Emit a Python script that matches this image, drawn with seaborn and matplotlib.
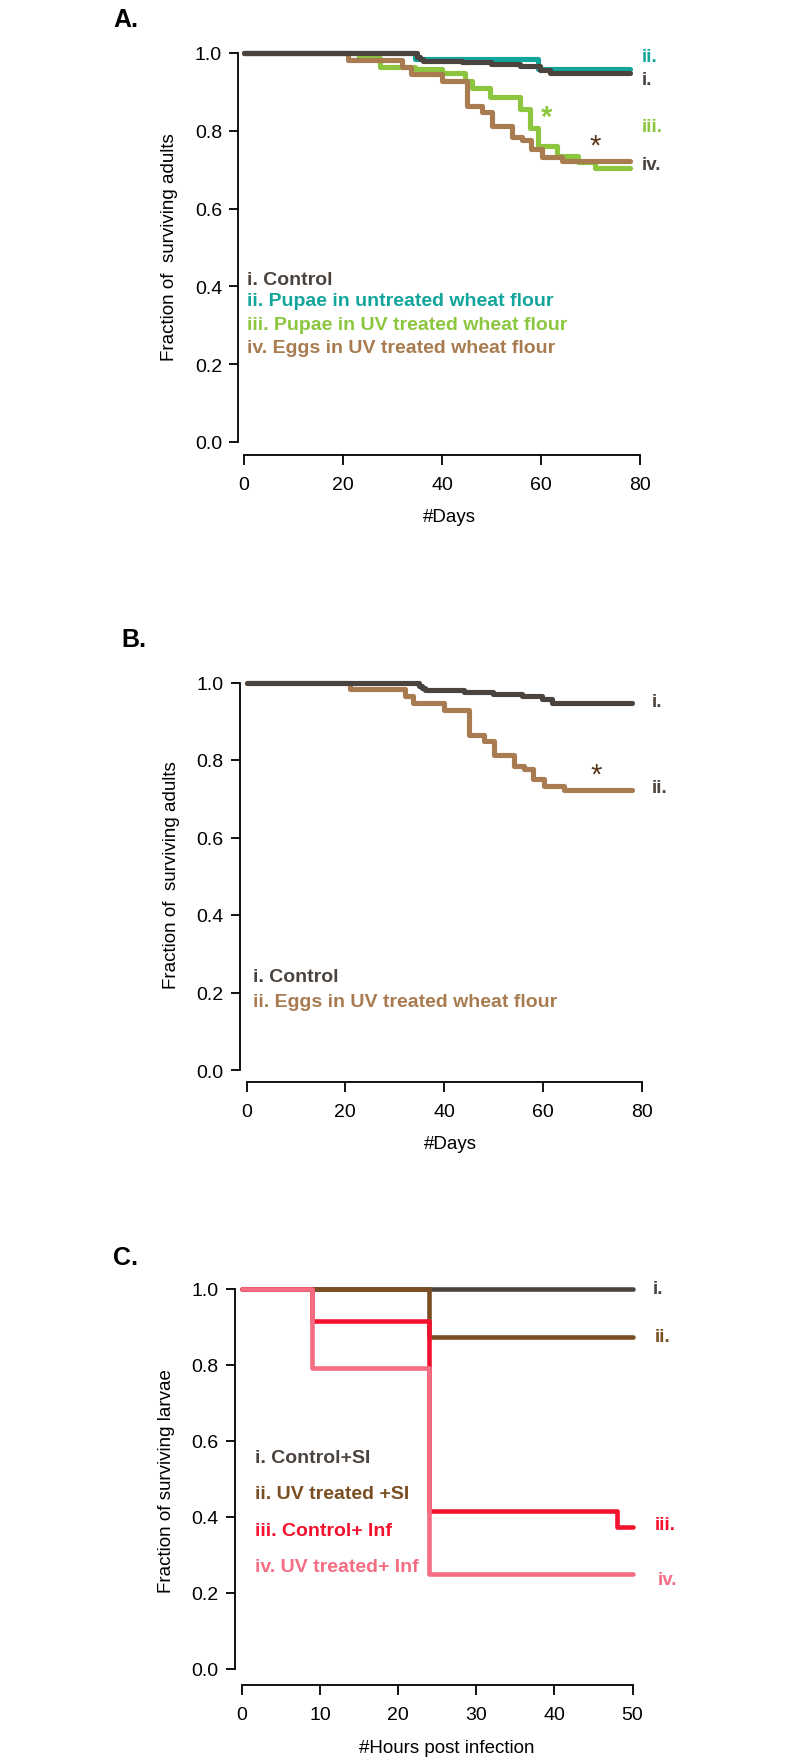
import matplotlib
matplotlib.use("Agg")
import matplotlib.pyplot as plt
import seaborn as sns

# ---- panel A / B : survival of adults (days) ----
ctrl_days = [0, 35, 35.6, 36.2, 44, 49.8, 55.8, 59.8, 61.8, 78]
ctrl_surv = [1.0, 0.99, 0.985, 0.98, 0.976, 0.971, 0.966, 0.957, 0.948, 0.948]

pupae_days = [0, 34.6, 59.4, 78]
pupae_surv = [1.0, 0.985, 0.958, 0.958]

pupae_uv_days = [0, 23.3, 27.5, 34.5, 40, 44.7, 46, 49.7, 55.7, 57.7, 59.4, 63.2, 67.4, 71, 78]
pupae_uv_surv = [1.0, 0.987, 0.965, 0.958, 0.948, 0.928, 0.91, 0.886, 0.855, 0.807,
                 0.762, 0.735, 0.72, 0.705, 0.705]

eggs_uv_days = [0, 21, 32, 33.8, 40, 45.1, 48, 50.1, 54.1, 56.1, 58, 60.2, 64.2, 78]
eggs_uv_surv = [1.0, 0.982, 0.964, 0.946, 0.929, 0.865, 0.849, 0.813, 0.785, 0.776,
                0.752, 0.733, 0.722, 0.722]

# ---- panel C : survival of larvae (hours post infection) ----
hours = [0, 9, 24, 48, 50]
ctrl_si = [1.0, 1.0, 1.0, 1.0, 1.0]
uv_si = [1.0, 1.0, 0.875, 0.875, 0.875]
ctrl_inf = [1.0, 0.917, 0.417, 0.375, 0.375]
uv_inf = [1.0, 0.792, 0.25, 0.25, 0.25]

y_ticks = [0.0, 0.2, 0.4, 0.6, 0.8, 1.0]
day_ticks = [0, 20, 40, 60, 80]
hour_ticks = [0, 10, 20, 30, 40, 50]

GRAY = "#4b433e"
TEAL = "#12a59c"
GREEN = "#8cc63f"
TAN = "#a87c50"
DKBROWN = "#5a3516"
BROWN = "#7a4e22"
RED = "#f2122d"
PINK = "#f46d82"

sns.set_style("ticks")
plt.rcParams["font.family"] = ["Liberation Sans", "DejaVu Sans"]
plt.rcParams["axes.linewidth"] = 1.3
plt.rcParams["xtick.major.width"] = 1.3
plt.rcParams["ytick.major.width"] = 1.3
plt.rcParams["xtick.major.size"] = 7
plt.rcParams["ytick.major.size"] = 6.5
plt.rcParams["xtick.color"] = "black"
plt.rcParams["ytick.color"] = "black"
plt.rcParams["axes.edgecolor"] = "black"
plt.rcParams["axes.labelcolor"] = "black"
plt.rcParams["text.color"] = "black"

W, H = 800, 1765
fig = plt.figure(figsize=(W / 100, H / 100), dpi=100)


def add_panel(x_zero, x_per, y_zero, y_per, xlim, ylim):
    # place axes so data origin lands on given pixel positions
    left = x_zero + xlim[0] * x_per
    right = x_zero + xlim[1] * x_per
    top = y_zero - ylim[1] * y_per
    bottom = y_zero - ylim[0] * y_per
    ax = fig.add_axes([left / W, 1 - bottom / H, (right - left) / W, (bottom - top) / H])
    ax.set_xlim(*xlim)
    ax.set_ylim(*ylim)
    sns.despine(ax=ax)
    return ax


def step(ax, x, y, color, lw=3.7):
    sns.lineplot(x=x, y=y, ax=ax, color=color, linewidth=lw, estimator=None,
                 drawstyle="steps-post", solid_capstyle="round")


def style_axes(ax, xticks, ylabel, xlabel):
    ax.spines["left"].set_bounds(0, 1)
    ax.spines["bottom"].set_bounds(xticks[0], xticks[-1])
    ax.set_yticks(y_ticks)
    ax.set_yticklabels([f"{v:.1f}" for v in y_ticks])
    ax.set_xticks(xticks)
    ax.tick_params(axis="both", labelsize=14)
    ax.tick_params(axis="y", pad=5)
    ax.tick_params(axis="x", pad=8)
    ax.set_ylabel(ylabel, fontsize=13.5, labelpad=12)
    ax.set_xlabel(xlabel, fontsize=13.5, labelpad=11)


# ---------------- A ----------------
axA = add_panel(244, 4.95, 443, 389, (-1.2, 84), (-0.033, 1.04))
step(axA, pupae_days, pupae_surv, TEAL)
step(axA, pupae_uv_days, pupae_uv_surv, GREEN)
step(axA, eggs_uv_days, eggs_uv_surv, TAN)
step(axA, ctrl_days, ctrl_surv, GRAY)
style_axes(axA, day_ticks, "Fraction of  surviving adults", "#Days")

lab = dict(fontsize=13.5, fontweight="bold", ha="left", va="center", clip_on=False)
axA.text(80.3, 0.99, "ii.", color=TEAL, **lab)
axA.text(80.3, 0.932, "i.", color=GRAY, **lab)
axA.text(80.3, 0.812, "iii.", color=GREEN, **lab)
axA.text(80.3, 0.713, "iv.", color=GRAY, **lab)
axA.text(61.2, 0.835, "*", color=GREEN, fontsize=21, fontweight="bold", ha="center", va="center")
axA.text(71.0, 0.762, "*", color=DKBROWN, fontsize=21, ha="center", va="center")

leg = dict(fontsize=14, fontweight="bold", ha="left", va="center")
axA.text(0.6, 0.418, "i. Control", color=GRAY, **leg)
axA.text(0.6, 0.363, "ii. Pupae in untreated wheat flour", color=TEAL, **leg)
axA.text(0.6, 0.303, "iii. Pupae in UV treated wheat flour", color=GREEN, **leg)
axA.text(0.6, 0.243, "iv. Eggs in UV treated wheat flour", color=TAN, **leg)

# ---------------- B ----------------
axB = add_panel(246.5, 4.94, 1071, 387.5, (-1.4, 84), (-0.031, 1.04))
step(axB, eggs_uv_days, eggs_uv_surv, TAN)
step(axB, ctrl_days, ctrl_surv, GRAY)
style_axes(axB, day_ticks, "Fraction of  surviving adults", "#Days")
axB.text(82.0, 0.952, "i.", color=GRAY, **lab)
axB.text(82.0, 0.728, "ii.", color=GRAY, **lab)
axB.text(70.7, 0.762, "*", color=DKBROWN, fontsize=21, ha="center", va="center")
axB.text(1.4, 0.241, "i. Control", color=GRAY, **leg)
axB.text(1.4, 0.178, "ii. Eggs in UV treated wheat flour", color=TAN, **leg)

# ---------------- C ----------------
axC = add_panel(242, 7.81, 1670, 380, (-0.95, 53.5), (-0.042, 1.035))
step(axC, hours, ctrl_si, GRAY, 3.3)
step(axC, hours, uv_si, BROWN, 3.3)
step(axC, hours, ctrl_inf, RED, 3.3)
step(axC, hours, uv_inf, PINK, 3.3)
style_axes(axC, hour_ticks, "Fraction of surviving larvae", "#Hours post infection")
axC.xaxis.labelpad = 12
axC.text(52.6, 1.0, "i.", color=GRAY, **lab)
axC.text(52.8, 0.875, "ii.", color=BROWN, **lab)
axC.text(52.8, 0.38, "iii.", color=RED, **lab)
axC.text(53.2, 0.236, "iv.", color=PINK, **lab)
axC.text(1.7, 0.557, "i. Control+SI", color=GRAY, **leg)
axC.text(1.7, 0.463, "ii. UV treated +SI", color=BROWN, **leg)
axC.text(1.7, 0.365, "iii. Control+ Inf", color=RED, **leg)
axC.text(1.7, 0.269, "iv. UV treated+ Inf", color=PINK, **leg)

# panel letters
fig.text(113 / W, 1 - 20 / H, "A.", fontsize=18, fontweight="bold", va="center", ha="left")
fig.text(121 / W, 1 - 640 / H, "B.", fontsize=18, fontweight="bold", va="center", ha="left")
fig.text(113 / W, 1 - 1258 / H, "C.", fontsize=18, fontweight="bold", va="center", ha="left")

fig.savefig("out.png", dpi=100)
